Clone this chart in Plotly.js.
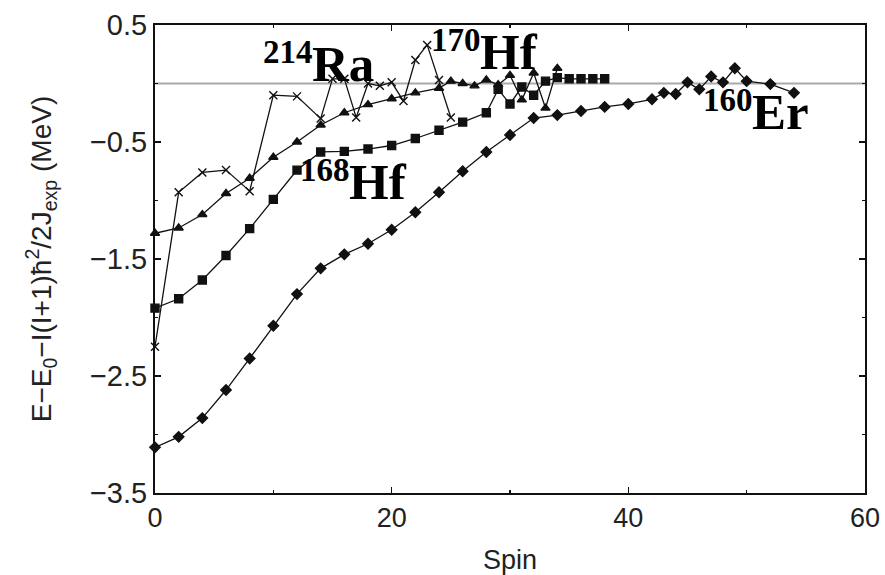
<!DOCTYPE html>
<html>
<head>
<meta charset="utf-8">
<script src="https://cdn.plot.ly/plotly-3.0.1.min.js"></script>
<style>
  html, body { margin: 0; padding: 0; background: #fff; }
  #chart { width: 885px; height: 575px; }
</style>
</head>
<body>
<div id="chart"></div>
<script>
// 160Er band: spin and reduced energy (MeV)
const er160Spin = [0, 2, 4, 6, 8, 10, 12, 14, 16, 18, 20, 22, 24, 26, 28, 30, 32, 34, 36, 38, 40, 42, 43, 44, 45, 46, 47, 48, 49, 50, 52, 54];
const er160E = [-3.11, -3.02, -2.86, -2.62, -2.35, -2.07, -1.80, -1.58, -1.46, -1.37, -1.25, -1.10, -0.93, -0.75, -0.585, -0.44, -0.295, -0.27, -0.235, -0.20, -0.175, -0.135, -0.08, -0.09, 0.01, -0.05, 0.06, 0.01, 0.13, 0.02, -0.005, -0.08];

// 168Hf band
const hf168Spin = [0, 2, 4, 6, 8, 10, 12, 14, 16, 18, 20, 22, 24, 26, 28, 29, 30, 31, 32, 33, 34, 35, 36, 37, 38];
const hf168E = [-1.92, -1.84, -1.68, -1.47, -1.24, -0.99, -0.74, -0.585, -0.58, -0.56, -0.53, -0.47, -0.40, -0.33, -0.25, -0.05, -0.175, -0.03, -0.10, 0.02, 0.05, 0.04, 0.04, 0.04, 0.04];

// 170Hf band
const hf170Spin = [0, 2, 4, 6, 8, 10, 12, 14, 16, 18, 20, 22, 24, 25, 26, 27, 28, 29, 30, 31, 32, 33, 34];
const hf170E = [-1.28, -1.235, -1.12, -0.94, -0.81, -0.63, -0.50, -0.355, -0.25, -0.18, -0.13, -0.08, -0.04, 0.02, 0.0, -0.02, 0.03, -0.01, 0.07, -0.14, 0.09, -0.21, 0.13];

// 214Ra band
const ra214Spin = [0, 2, 4, 6, 8, 10, 12, 14, 15, 16, 17, 18, 19, 20, 21, 22, 23, 24, 25];
const ra214E = [-2.25, -0.93, -0.76, -0.74, -0.92, -0.10, -0.11, -0.30, 0.04, 0.04, -0.29, 0.0, -0.02, 0.01, -0.15, 0.20, 0.33, 0.03, -0.29];

// Nucleus labels: mass number (raised) and element symbol, joined at labelX
const labelMass = ['214', '170', '168', '160'];
const labelElem = ['Ra', 'Hf', 'Hf', 'Er'];
const labelX = [13.36, 27.56, 16.48, 50.55];
const labelY = [-0.09, 0.013, -1.098, -0.5];
const massRaise = 0.188;

const tickFontX = { family: 'Liberation Sans, Arial, sans-serif', size: 27, color: '#222' };
const tickFontY = { family: 'Liberation Sans, Arial, sans-serif', size: 29, color: '#222' };
const serif = 'Liberation Serif, Times New Roman, serif';

function band(x, y, symbol, size, name) {
  return {
    type: 'scatter', mode: 'lines+markers', name: name,
    x: x, y: y,
    line: { color: '#111', width: 1.3 },
    marker: { symbol: symbol, size: size, color: '#111', line: { color: '#111', width: 1.4 } },
    showlegend: false, cliponaxis: false
  };
}

const traces = [
  band(er160Spin, er160E, 'diamond', 8, '160Er'),
  band(hf168Spin, hf168E, 'square', 8, '168Hf'),
  band(hf170Spin, hf170E, 'triangle-up', 8, '170Hf'),
  band(ra214Spin, ra214E, 'x-thin-open', 8, '214Ra')
];

const annotations = [];
labelElem.forEach((el, i) => {
  annotations.push({
    text: el, x: labelX[i], y: labelY[i], xref: 'x', yref: 'y', xshift: -3,
    xanchor: 'left', yanchor: 'bottom', showarrow: false,
    font: { family: serif, size: 51, weight: 'bold', color: '#000' }
  });
  annotations.push({
    text: labelMass[i], x: labelX[i], y: labelY[i] + massRaise, xref: 'x', yref: 'y', xshift: 2,
    xanchor: 'right', yanchor: 'bottom', showarrow: false,
    font: { family: serif, size: 33, weight: 'bold', color: '#000' }
  });
});

const axisCommon = {
  showgrid: false, zeroline: false,
  showline: true, linecolor: '#111', linewidth: 2, mirror: 'allticks',
  ticks: 'inside', ticklen: 6, tickwidth: 1.5, tickcolor: '#111'
};

const layout = {
  width: 885, height: 575,
  margin: { l: 155, r: 20, t: 25, b: 82 },
  paper_bgcolor: '#fff', plot_bgcolor: '#fff',
  xaxis: Object.assign({}, axisCommon, {
    range: [0, 60], tick0: 0, dtick: 20, tickfont: tickFontX,
    minor: { dtick: 10, ticks: 'inside', ticklen: 3, tickcolor: '#111', tickwidth: 1.5 },
    title: { text: 'Spin', font: tickFontX, standoff: 18 }
  }),
  yaxis: Object.assign({}, axisCommon, {
    range: [-3.5, 0.5], tick0: 0.5, dtick: 1, tickfont: tickFontY,
    minor: { dtick: 0.5, ticks: 'inside', ticklen: 3, tickcolor: '#111', tickwidth: 1.5 },
    title: { text: 'E\u2212E<sub>0</sub>\u2212I(I+1)\u0127<sup>2</sup>/2J<sub>exp</sub> (MeV)', font: { family: 'Liberation Sans, Arial, sans-serif', size: 28, color: '#222' }, standoff: 30 }
  }),
  shapes: [{
    type: 'line', xref: 'paper', yref: 'y', x0: 0, x1: 1, y0: 0, y1: 0,
    line: { color: '#aaa', width: 2 }, layer: 'below'
  }],
  annotations: annotations
};

Plotly.newPlot('chart', traces, layout, { displayModeBar: false, staticPlot: true });
</script>
</body>
</html>
